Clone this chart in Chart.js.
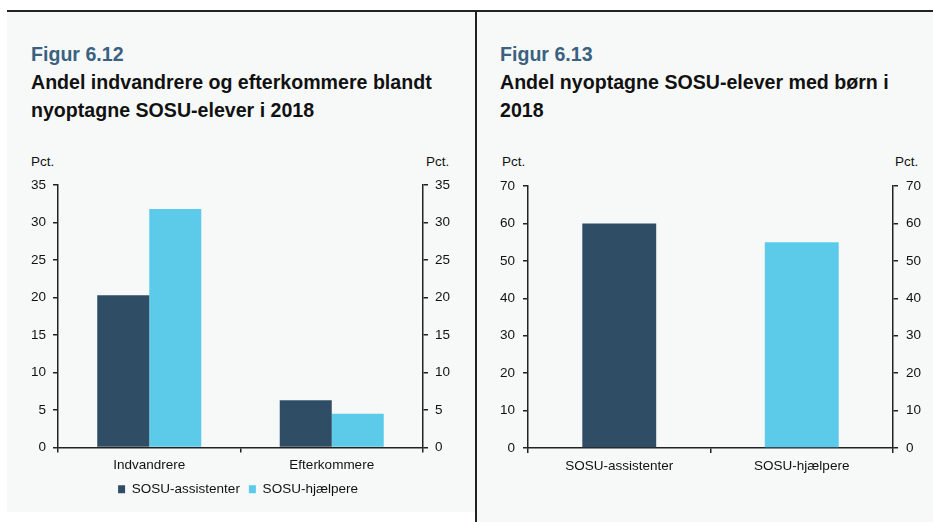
<!DOCTYPE html>
<html>
<head>
<meta charset="utf-8">
<script src="https://cdn.jsdelivr.net/npm/chart.js@4/dist/chart.umd.min.js"></script>
<style>
  body { margin: 0; width: 933px; height: 522px; background: #fff; position: relative; overflow: hidden;
         font-family: "Liberation Sans", Arial, sans-serif; }
  .abs { position: absolute; }
  .panel { background: #f7f9f9; }
  .fig { font-weight: bold; font-size: 19.6px; line-height: 28px; color: #3b6181; white-space: nowrap; }
  .title { font-weight: bold; font-size: 19.6px; line-height: 28px; color: #111; white-space: nowrap; }
  .pct { font-size: 13.5px; line-height: 15px; color: #111; }
</style>
</head>
<body>
<div class="abs" style="left:7px;top:10px;width:926px;height:2px;background:#222"></div>
<div class="abs panel" style="left:7px;top:12px;width:468px;height:500px"></div>
<div class="abs" style="left:475px;top:10px;width:2px;height:512px;background:#222"></div>
<div class="abs panel" style="left:477px;top:12px;width:456px;height:510px"></div>

<div class="abs fig" style="left:31px;top:40px">Figur 6.12</div>
<div class="abs title" style="left:31px;top:68px">Andel indvandrere og efterkommere blandt<br>nyoptagne SOSU-elever i 2018</div>
<div class="abs pct" style="left:31px;top:154px">Pct.</div>
<div class="abs pct" style="left:426px;top:154px">Pct.</div>

<div class="abs fig" style="left:500px;top:40px">Figur 6.13</div>
<div class="abs title" style="left:500px;top:68px">Andel nyoptagne SOSU-elever med børn i<br>2018</div>
<div class="abs pct" style="left:502px;top:154px">Pct.</div>
<div class="abs pct" style="left:895px;top:154px">Pct.</div>

<canvas id="c1" class="abs" style="left:0px;top:170px" width="476" height="345"></canvas>
<canvas id="c2" class="abs" style="left:477px;top:170px" width="456" height="345"></canvas>

<script>
// Figur 6.12
const groups612 = ['Indvandrere', 'Efterkommere'];
const assistenter612 = [20.3, 6.3];
const hjaelpere612 = [31.8, 4.5];
const yTicks612 = [0, 5, 10, 15, 20, 25, 30, 35];

// Figur 6.13
const groups613 = ['SOSU-assistenter', 'SOSU-hjælpere'];
const share613 = [60, 55];
const yTicks613 = [0, 10, 20, 30, 40, 50, 60, 70];

const dark = '#2f4e65';
const light = '#5ccbea';
const axisColor = '#222';
const tickFont = { family: 'Liberation Sans', size: 13.5 };

function yAxis(ticks, position, width, pad) {
  return {
    position: position,
    min: ticks[0],
    max: ticks[ticks.length - 1],
    ticks: { stepSize: ticks[1] - ticks[0], padding: pad, font: tickFont, color: '#111' },
    grid: { drawOnChartArea: false, tickLength: 5, color: axisColor, lineWidth: 1.5 },
    border: { color: axisColor, width: 1.5 },
    afterFit: s => { s.width = width; }
  };
}

function xAxis() {
  return {
    grid: { drawOnChartArea: false, tickLength: 5, color: axisColor, lineWidth: 1.5 },
    border: { color: axisColor, width: 1.5 },
    ticks: { padding: 5, font: tickFont, color: '#111', maxRotation: 0 },
    afterFit: s => { s.height = 26; }
  };
}

// Figur 6.12 chart
new Chart(document.getElementById('c1').getContext('2d'), {
  type: 'bar',
  data: {
    labels: groups612,
    datasets: [
      { label: 'SOSU-assistenter', data: assistenter612, backgroundColor: dark, yAxisID: 'y' },
      { label: 'SOSU-hjælpere', data: hjaelpere612, backgroundColor: light, yAxisID: 'y' }
    ]
  },
  options: {
    responsive: false,
    animation: false,
    datasets: { bar: { barPercentage: 1, categoryPercentage: 0.57 } },
    layout: { padding: { top: 13, bottom: 9, left: 0, right: 0 } },
    plugins: {
      legend: {
        position: 'bottom',
        labels: { boxWidth: 7, boxHeight: 8, padding: 9, font: tickFont, color: '#111' }
      },
      tooltip: { enabled: false }
    },
    scales: {
      x: xAxis(),
      y: yAxis(yTicks612, 'left', 58, 7),
      y2: yAxis(yTicks612, 'right', 53, 7)
    }
  }
});

// Figur 6.13 chart
new Chart(document.getElementById('c2').getContext('2d'), {
  type: 'bar',
  data: {
    labels: groups613,
    datasets: [
      { label: 'Andel med børn', data: share613, backgroundColor: [dark, light], yAxisID: 'y' }
    ]
  },
  options: {
    responsive: false,
    animation: false,
    datasets: { bar: { barPercentage: 1, categoryPercentage: 0.405 } },
    layout: { padding: { top: 13, bottom: 41, left: 0, right: 0 } },
    plugins: {
      legend: { display: false },
      tooltip: { enabled: false }
    },
    scales: {
      x: xAxis(),
      y: yAxis(yTicks613, 'left', 51, 8),
      y2: yAxis(yTicks613, 'right', 40, 8)
    }
  }
});
</script>
</body>
</html>
